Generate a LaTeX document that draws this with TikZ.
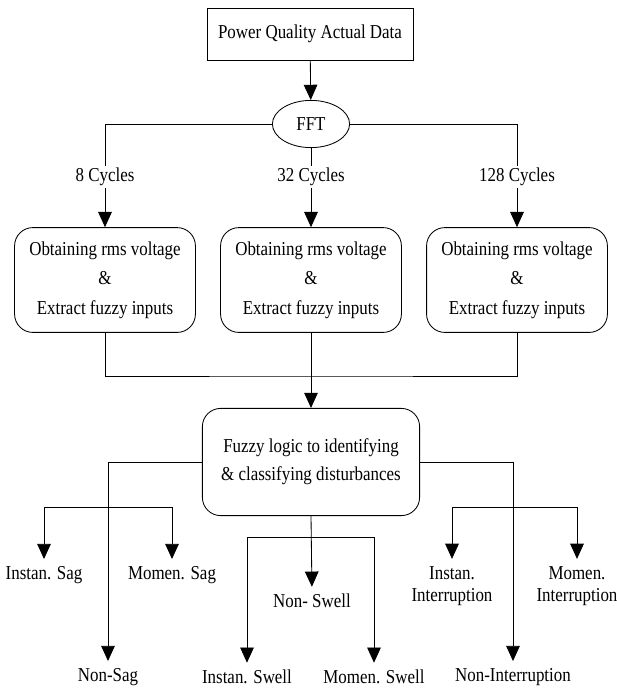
\documentclass[tikz,border=0pt]{standalone}
\usepackage{fontspec}
\setmainfont[FakeStretch=0.86]{Liberation Serif}
\usetikzlibrary{arrows.meta,shapes.geometric}
\definecolor{ink}{HTML}{000000}
\newcommand{\fourteen}{\fontsize{14}{16}\selectfont}
\tikzset{
 every node/.append style={font=\fourteen,text=ink,align=center},
 box/.style={draw=ink,line width=.6pt,inner sep=4pt},
 rbox/.style={box,rounded corners=13pt},
 oval/.style={draw=ink,ellipse,line width=.6pt,inner sep=1pt},
 word/.style={inner sep=1pt},
 flow/.style={-{Triangle[length=3.8mm,width=3.4mm]},draw=ink,line width=.6pt},
 leaf/.style={flow,shorten >=4pt},
 route/.style={draw=ink,line width=.6pt},
}

\begin{document}
\begin{tikzpicture}[x=.025cm,y=-.025cm]

\useasboundingbox (0,0) rectangle (617,693);
\node[box,minimum width=5.15cm,minimum height=1.3cm] (data) at (310,34) {Power Quality Actual Data};
\node[oval,minimum width=1.93cm,minimum height=1.18cm] (fft) at (311,124) {FFT};
\draw[flow] (data) -- (fft);

% three window lengths
\node[word] (c8) at (105,177) {8 Cycles};
\node[word] (c32) at (311,177) {32 Cycles};
\node[word] (c128) at (517,177) {128 Cycles};
\draw[route] (fft.west) -| (c8.north);
\draw[route] (fft.south) -- (c32.north);
\draw[route] (fft.east) -| (c128.north);

\node[rbox,minimum width=4.52cm,minimum height=2.62cm] (obt1) at (105,280) {Obtaining rms voltage\\[5pt]\&\\[5pt]Extract fuzzy inputs};
\node[rbox,minimum width=4.52cm,minimum height=2.62cm] (obt2) at (311,280) {Obtaining rms voltage\\[5pt]\&\\[5pt]Extract fuzzy inputs};
\node[rbox,minimum width=4.52cm,minimum height=2.62cm] (obt3) at (517,280) {Obtaining rms voltage\\[5pt]\&\\[5pt]Extract fuzzy inputs};
\draw[flow] (c8) -- (obt1);
\draw[flow] (c32) -- (obt2);
\draw[flow] (c128) -- (obt3);

\node[rbox,minimum width=5.43cm,minimum height=2.68cm] (fuzzy) at (311,462) {Fuzzy logic to identifying\\[4pt]\& classifying disturbances};
\coordinate (merge) at (311,376);
\draw[route] (obt1.south) |- (merge) -| (obt3.south);
\draw[flow] (obt2.south) -- (fuzzy.north);

% outputs
\node[word] (nonsag) at (108,677) {Non-Sag};
\node[word] (isag) at (44,575) {Instan. Sag};
\node[word] (msag) at (172,575) {Momen. Sag};
\node[word] (nswell) at (312,601) {Non- Swell};
\node[word] (iswell) at (247,677) {Instan. Swell};
\node[word] (mswell) at (374,677) {Momen. Swell};
\node[word] (nonint) at (513,677) {Non-Interruption};
\node[word] (iint) at (452,586) {Instan.\\Interruption};
\node[word] (mint) at (577,586) {Momen.\\Interruption};

\coordinate (sagbar) at (108,507);
\coordinate (swellbar) at (312,537);
\coordinate (intbar) at (513,507);

\draw[leaf] (fuzzy.west) -| (nonsag.north);
\draw[leaf] (sagbar) -| (isag.north);
\draw[leaf] (sagbar) -| (msag.north);
\draw[leaf] (fuzzy.south) -- (nswell.north);
\draw[leaf] (swellbar) -| (iswell.north);
\draw[leaf] (swellbar) -| (mswell.north);
\draw[leaf] (fuzzy.east) -| (nonint.north);
\draw[leaf] (intbar) -| (iint.north);
\draw[leaf] (intbar) -| (mint.north);

\end{tikzpicture}
\end{document}
